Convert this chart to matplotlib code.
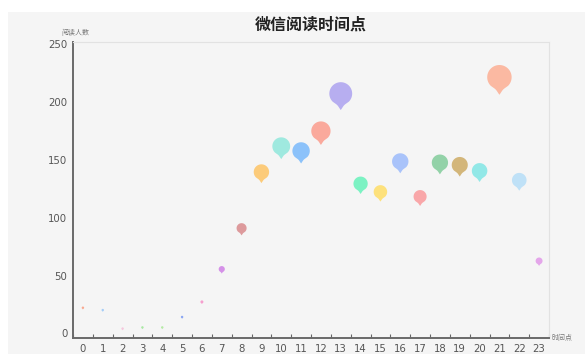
import numpy as np
import matplotlib
matplotlib.use('Agg')
import matplotlib.pyplot as plt
from matplotlib.path import Path
from matplotlib.patches import Rectangle


# 数据: 每个时间点的阅读人数
hours = list(range(24))
readers = [22, 20, 4, 5, 5, 14, 27, 55, 90, 138, 160, 156,
           173, 205, 128, 121, 147, 117, 146, 144, 139, 219, 131, 62]
hourLabels = [str(h) for h in hours]
pinColors = ['#f9a98f', '#a6cdf7', '#f5c6dc', '#a9e8a3', '#b5eaa5', '#8aa6f2',
             '#f59fce', '#d591e8', '#dd9a9c', '#fccb7a', '#9fe9df', '#8cc2fa',
             '#faa99c', '#b7aef0', '#7cf2c3', '#fde17c', '#a9c3fa', '#f9a7a9',
             '#93d2a8', '#d3b67a', '#92e8e7', '#fbb9a2', '#bfe1f7', '#e4a6ea']
yTicks = [0, 50, 100, 150, 200, 250]

cjk = ['Noto Sans CJK SC', 'DejaVu Sans']
bgColor = '#f5f5f5'


'''
水滴形 (pin) 标记, 按包围盒居中
'''
def pinMarker():
    r = 1.0
    d = 1.44                      # 圆心到尖端的距离
    a = np.arcsin(r / d)
    tip = np.array([0.0, -d])
    right = np.array([np.cos(a), -np.sin(a)])
    left = np.array([-np.cos(a), -np.sin(a)])

    # 上半部分圆弧
    t = np.linspace(-a, np.pi + a, 60)
    arc = np.column_stack([np.cos(t), np.sin(t)])

    # 两条边稍微向内弯一点
    def side(p0, p1, n=12):
        s = np.linspace(0, 1, n)[:, None]
        pts = (1 - s) * p0 + s * p1
        mid = np.array([0.0, -d * 0.5])
        bend = 0.08 * np.sin(np.pi * s)
        return pts + bend * (mid - pts) / np.linalg.norm(mid - pts + 1e-9, axis=1)[:, None]

    verts = np.vstack([arc, side(left, tip)[1:], side(tip, right)[1:]])
    verts[:, 1] += (d - r) / 2.0
    verts = np.vstack([verts, verts[:1]])
    codes = [Path.MOVETO] + [Path.LINETO] * (len(verts) - 2) + [Path.CLOSEPOLY]
    return Path(verts, codes)


dpi = 100
fig = plt.figure(figsize=(5.85, 3.54), dpi=dpi, facecolor='white')
W, H = 585.0, 354.0

# 灰色背景
fig.patches.append(Rectangle((8 / W, 0), 1 - 8 / W, 1 - 12 / H,
                             transform=fig.transFigure, facecolor=bgColor,
                             edgecolor='none', zorder=-10))

ax = fig.add_axes([73 / W, 16 / H, 476 / W, (338 - 41.7) / H])
ax.set_facecolor(bgColor)

# 标记大小和数值成正比 (高度像素 -> 点)
heights = [max(v * 0.136, 3.0) * 72.0 / dpi for v in readers]
sizes = [h ** 2 for h in heights]
ax.scatter(hours, readers, s=sizes, c=pinColors, marker=pinMarker(),
           linewidths=0, zorder=3)

ax.set_xlim(-0.5, 23.5)
ax.set_ylim(-3.9, 252)

ax.set_xticks(hours)
ax.set_xticklabels(hourLabels)
ax.set_xticks(np.arange(-0.5, 24, 1.0), minor=True)
ax.tick_params(axis='x', which='major', length=0, pad=4, labelsize=7.3,
               labelcolor='#555555')
ax.tick_params(axis='x', which='minor', length=3, width=0.8,
               direction='in', color='#666666')

ax.set_yticks(yTicks)
ax.tick_params(axis='y', length=0, pad=4, labelsize=7.3, labelcolor='#555555')

for side in ['left', 'bottom']:
    ax.spines[side].set_color('#6a6a6a')
    ax.spines[side].set_linewidth(1.4)
for side in ['top', 'right']:
    ax.spines[side].set_color('#e2e2e2')
    ax.spines[side].set_linewidth(0.8)

# 标题和坐标轴名称
fig.text(311 / W, 1 - 25 / H, '微信阅读时间点', ha='center', va='center',
         fontsize=11.5, fontweight='bold', family=cjk, color='#222222')
fig.text(75 / W, 1 - 33 / H, '阅读人数', ha='center', va='center',
         fontsize=5, family=cjk, color='#777777')
fig.text(552 / W, 1 - 338 / H, '时间点', ha='left', va='center',
         fontsize=5, family=cjk, color='#777777')

fig.savefig('out.png', dpi=dpi, facecolor=fig.get_facecolor())
